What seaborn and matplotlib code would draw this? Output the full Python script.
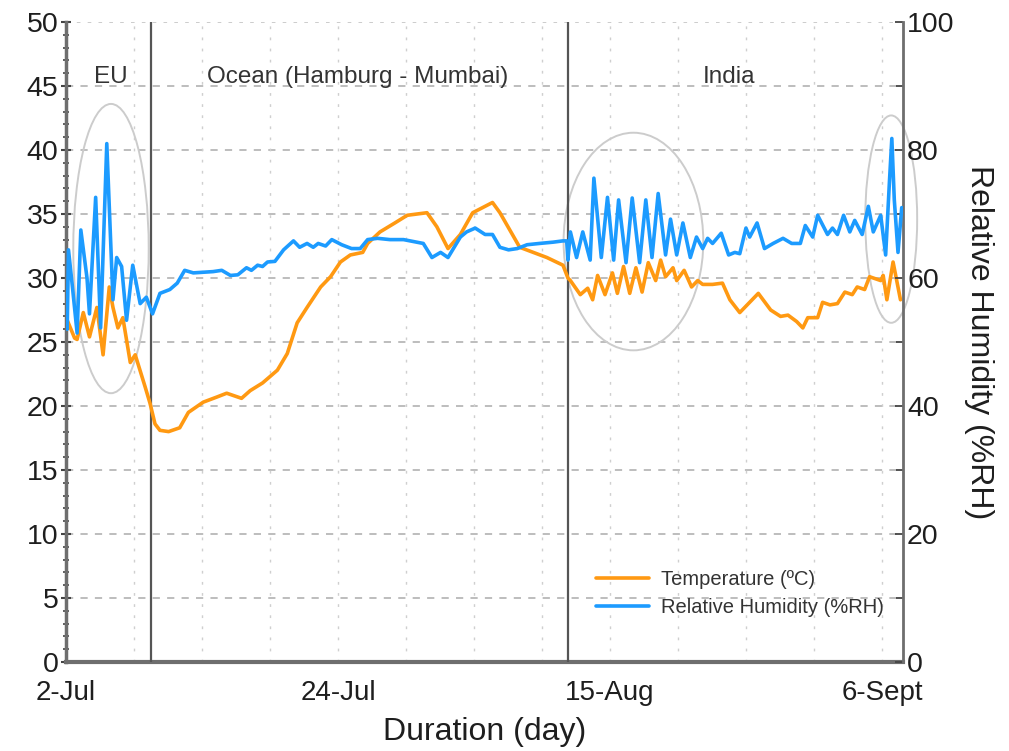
import numpy as np
import pandas as pd
import matplotlib
matplotlib.use("Agg")
import matplotlib.pyplot as plt
from matplotlib.patches import Ellipse
from matplotlib.ticker import MultipleLocator, FixedLocator
import seaborn as sns

# ---------------- data (days since 2-Jul) ----------------
temp_day = [0.1, 0.7, 0.9, 1.4, 1.9, 2.5, 3.0, 3.5, 3.8, 4.2, 4.6, 5.2, 5.6, 6.4, 6.8,
            7.2, 7.6, 8.3, 9.2, 9.9, 11.1, 12.2, 13.0, 14.2, 14.9, 15.9, 17.1, 17.9,
            18.7, 19.5, 20.6, 21.4, 22.2, 23.0, 24.0, 24.4, 25.4, 26.6, 27.6, 29.2,
            30.0, 30.9, 31.9, 32.9, 34.5, 35.1, 36.7, 37.8, 38.9, 40.2, 40.6, 40.8,
            41.6, 42.2, 42.6, 43.0, 43.6, 44.2, 44.6, 45.1, 45.6, 46.1, 46.6, 47.1,
            47.7, 48.1, 48.5, 49.1, 49.4, 50.0, 50.6, 51.1, 51.5, 52.3, 53.1, 53.7,
            54.5, 55.2, 56.0, 57.0, 57.8, 58.4, 59.1, 59.6, 60.0, 60.8, 61.2, 61.8,
            62.4, 63.0, 63.6, 64.0, 64.6, 65.0, 65.9, 66.1, 66.4, 66.9, 67.5]
temp_val = [26.7, 25.3, 25.2, 27.3, 25.4, 27.7, 24.0, 29.3, 27.7, 26.1, 26.9, 23.4, 24.0,
            21.5, 20.2, 18.6, 18.1, 18.0, 18.3, 19.5, 20.3, 20.7, 21.0, 20.6, 21.2, 21.8,
            22.8, 24.1, 26.5, 27.7, 29.3, 30.1, 31.25, 31.8, 32.0, 32.7, 33.6, 34.3, 34.9,
            35.1, 34.0, 32.3, 33.4, 35.1, 35.9, 35.1, 32.4, 32.0, 31.6, 31.0, 30.0, 29.8,
            28.7, 29.2, 28.3, 30.2, 28.7, 30.4, 28.8, 30.9, 28.8, 30.8, 28.9, 31.2, 29.8,
            31.4, 30.1, 30.8, 29.8, 30.6, 29.3, 29.8, 29.5, 29.5, 29.6, 28.3, 27.3, 28.0,
            28.8, 27.5, 27.0, 27.1, 26.6, 26.1, 26.9, 26.9, 28.1, 27.9, 28.0, 28.9, 28.7,
            29.3, 29.1, 30.1, 29.8, 30.2, 28.3, 31.25, 28.3]

rh_day = [0.1, 0.2, 0.5, 0.9, 1.2, 1.7, 1.9, 2.4, 2.8, 3.3, 3.8, 4.1, 4.5, 4.9, 5.4,
          6.0, 6.5, 7.0, 7.6, 8.4, 9.0, 9.6, 10.3, 11.9, 12.6, 13.3, 13.9, 14.6, 15.0,
          15.5, 15.9, 16.3, 16.9, 17.6, 18.4, 18.9, 19.5, 20.0, 20.4, 21.0, 21.5, 22.3,
          23.1, 23.8, 24.4, 25.2, 26.2, 27.3, 28.9, 29.6, 30.3, 30.9, 31.9, 32.4, 33.1,
          33.9, 34.5, 35.1, 35.8, 36.5, 37.3, 38.3, 39.4, 40.2, 40.5, 40.6, 40.8, 41.3,
          41.8, 42.4, 42.7, 43.3, 43.8, 44.3, 44.7, 45.3, 45.8, 46.4, 46.9, 47.4, 47.9,
          48.5, 48.9, 49.4, 49.9, 50.5, 51.0, 51.5, 51.9, 52.3, 53.0, 53.6, 54.1, 54.5,
          55.0, 55.3, 55.9, 56.5, 57.2, 58.0, 58.7, 59.4, 59.8, 60.4, 60.8, 61.6, 62.0,
          62.4, 62.9, 63.4, 63.8, 64.4, 64.9, 65.3, 65.9, 66.3, 66.6, 66.8, 67.0, 67.3,
          67.6]
rh_val = [52.0, 64.4, 59.0, 51.4, 67.5, 60.0, 54.4, 72.6, 52.2, 81.0, 56.6, 63.2, 61.8,
          53.4, 62.0, 56.0, 57.0, 54.4, 57.6, 58.2, 59.2, 61.2, 60.8, 61.0, 61.2, 60.4,
          60.5, 61.6, 61.2, 62.0, 61.8, 62.5, 62.6, 64.4, 65.8, 64.8, 65.4, 64.8, 65.4,
          65.0, 66.0, 65.2, 64.6, 64.6, 66.0, 66.2, 66.0, 66.0, 65.4, 63.2, 64.0, 63.2,
          66.4, 67.2, 67.8, 66.8, 66.8, 64.8, 64.4, 64.6, 65.2, 65.4, 65.6, 65.8, 65.8,
          62.8, 67.2, 63.2, 67.2, 62.8, 75.6, 63.2, 72.6, 62.8, 72.2, 62.4, 72.5, 62.4,
          72.2, 63.2, 73.2, 63.6, 69.2, 63.6, 68.6, 63.2, 66.4, 64.6, 66.2, 65.4, 67.0,
          63.6, 64.0, 63.8, 67.8, 66.4, 68.6, 64.6, 65.4, 66.2, 65.4, 65.4, 68.2, 66.4,
          69.8, 66.8, 67.8, 66.8, 69.8, 67.2, 69.0, 66.8, 71.2, 67.2, 69.8, 63.6, 74.8,
          81.8, 72.2, 64.0, 71.0]

tick_days = [0, 22, 44, 66]
tick_labels = ["2-Jul", "24-Jul", "15-Aug", "6-Sept"]
region_names = ["EU", "Ocean (Hamburg - Mumbai)", "India"]
region_centers = [3.6, 23.6, 53.6]
divider_days = [6.9, 40.6]

# ---------------- style ----------------
sns.set_style("white")
plt.rcParams["font.family"] = ["Liberation Sans", "DejaVu Sans"]

ORANGE = "#FF9912"
BLUE = "#1C9BFF"
AXCOL = "#6e6e6e"
TXT = "#1e1e1e"

fig = plt.figure(figsize=(10.09, 7.51), dpi=100)
ax = fig.add_axes([0.0654, 0.1185, 0.8295, 0.8522])
ax2 = ax.twinx()

df_t = pd.DataFrame({"day": temp_day, "val": temp_val})
df_h = pd.DataFrame({"day": rh_day, "val": rh_val})

sns.lineplot(data=df_t, x="day", y="val", ax=ax, color=ORANGE, lw=2.6,
             label="Temperature (ºC)", legend=False, zorder=4)
sns.lineplot(data=df_h, x="day", y="val", ax=ax2, color=BLUE, lw=2.6,
             label="Relative Humidity (%RH)", legend=False, zorder=5)

xmax = 67.7
ax.set_xlim(0, xmax)
ax.set_ylim(0, 50)
ax2.set_ylim(0, 100)

# grids
for y in range(5, 50, 5):
    ax.axhline(y, color="#b8b8b8", lw=1.3, ls=(0, (4, 4)), zorder=0)
ax.axhline(50, color="#c8c8c8", lw=1.3, ls=(0, (2, 4)), zorder=0)
for i in range(1, 13):
    ax.axvline(i * 5.5, color="#cfcfcf", lw=1.0, ls=(0, (2, 6)), zorder=0)

for d in divider_days:
    ax.axvline(d, color="#555555", lw=1.6, zorder=3)

for name, cx in zip(region_names, region_centers):
    ax.text(cx, 45.7, name, ha="center", va="center", fontsize=17.5, color="#333333")

# ellipses
for (cx, cy, w, h) in [(3.64, 32.3, 6.1, 22.6), (45.9, 32.85, 11.3, 17.0), (66.75, 34.6, 4.2, 16.2)]:
    e = Ellipse((cx, cy), w, h, fill=False, edgecolor="#cccccc", lw=1.4, clip_on=False, zorder=2)
    ax.add_patch(e)

# spines
for a in (ax, ax2):
    a.spines["top"].set_visible(False)
ax.spines["left"].set_color(AXCOL)
ax.spines["left"].set_linewidth(2.5)
ax.spines["bottom"].set_color(AXCOL)
ax.spines["bottom"].set_linewidth(3.0)
ax2.spines["right"].set_color(AXCOL)
ax2.spines["right"].set_linewidth(2.0)
ax2.spines["left"].set_visible(False)
ax2.spines["bottom"].set_visible(False)
ax.spines["right"].set_visible(False)

# ticks
ax.yaxis.set_major_locator(MultipleLocator(5))
ax.yaxis.set_minor_locator(MultipleLocator(1))
ax.tick_params(axis="y", which="major", direction="inout", length=7, width=1.5,
               color="#444444", labelsize=20.5, labelcolor=TXT, pad=2)
ax.tick_params(axis="y", which="minor", direction="inout", length=4, width=1.2, color="#444444")
ax.xaxis.set_major_locator(FixedLocator(tick_days))
ax.set_xticklabels(tick_labels)
ax.xaxis.set_minor_locator(FixedLocator([i * 5.5 for i in range(1, 13)]))
ax.tick_params(axis="x", which="major", direction="in", length=6, width=1.3,
               color="#444444", labelsize=20, labelcolor=TXT, pad=13)
ax.tick_params(axis="x", which="minor", direction="in", length=5, width=1.3, color="#444444")
ax2.yaxis.set_major_locator(MultipleLocator(20))
ax2.yaxis.set_minor_locator(MultipleLocator(10))
ax2.tick_params(axis="y", which="major", direction="in", length=6, width=1.3,
                color="#444444", labelsize=20.5, labelcolor=TXT, pad=3)
ax2.tick_params(axis="y", which="minor", direction="in", length=5, width=1.3, color="#444444")

ax.set_xlabel("Duration (day)", fontsize=23, color=TXT, labelpad=8)
ax.set_ylabel("")
ax2.set_ylabel("Relative Humidity (%RH)", fontsize=23, rotation=270, color=TXT, labelpad=28)

h1, l1 = ax.get_legend_handles_labels()
h2, l2 = ax2.get_legend_handles_labels()
leg = ax2.legend(h1 + h2, l1 + l2, loc="upper left", bbox_to_anchor=(0.612, 0.172),
                 frameon=False, fontsize=14.5, handlelength=2.6, handletextpad=0.6,
                 labelspacing=0.45, labelcolor="#333333")

fig.savefig("out.png", dpi=100)
